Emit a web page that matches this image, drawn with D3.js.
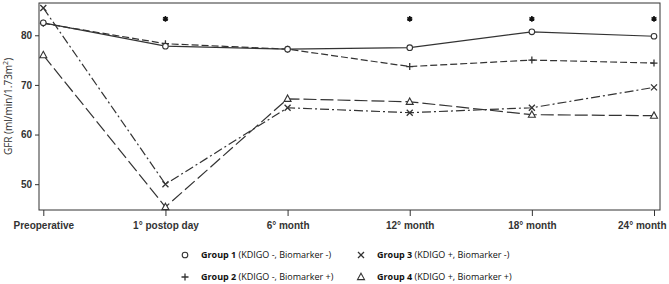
<!DOCTYPE html>
<html>
<head>
<meta charset="utf-8">
<script src="https://cdn.jsdelivr.net/npm/d3@7"></script>
<style>
  body { margin: 0; background: #fff; }
  svg { display: block; font-family: "Open Sans", "Liberation Sans", sans-serif; }
</style>
</head>
<body>
<div id="chart"></div>
<script>
// time points on the x axis
const timePoints = ["Preoperative", "1° postop day", "6° month", "12° month", "18° month", "24° month"];

// GFR values per group
const group1 = [82.5, 77.8, 77.2, 77.5, 80.7, 79.8];
const group2 = [82.4, 78.3, 77.2, 73.7, 75.0, 74.4];
const group3 = [85.5, 50.0, 65.4, 64.4, 65.4, 69.5];
const group4 = [76.0, 45.4, 67.2, 66.6, 64.0, 63.8];

// significance stars
const starPoints = ["1° postop day", "12° month", "18° month", "24° month"];
const starValue = 83.3;

const yTicks = [50, 60, 70, 80];

const groupNames = ["Group 1", "Group 2", "Group 3", "Group 4"];
const groupDetail = ["(KDIGO -, Biomarker -)", "(KDIGO -, Biomarker +)", "(KDIGO +, Biomarker -)", "(KDIGO +, Biomarker +)"];

const W = 669, H = 284;
const frame = {left: 39, right: 660, top: 3, bottom: 210};
const ink = "#333";

const svg = d3.select("#chart").append("svg")
    .attr("width", W).attr("height", H);

const x = d3.scalePoint()
    .domain(timePoints)
    .range([43.3, 654]);

const y = d3.scaleLinear()
    .domain([44.8, 86.5])
    .range([frame.bottom, frame.top]);

// frame
svg.append("rect")
    .attr("x", frame.left).attr("y", frame.top)
    .attr("width", frame.right - frame.left)
    .attr("height", frame.bottom - frame.top)
    .attr("fill", "none").attr("stroke", ink).attr("stroke-width", 1);

// y axis
const yAxis = svg.append("g")
    .attr("transform", `translate(${frame.left},0)`)
    .call(d3.axisLeft(y).tickValues(yTicks).tickSize(4).tickPadding(3));
yAxis.select(".domain").remove();
yAxis.selectAll("line").attr("stroke", ink);
yAxis.selectAll("text")
    .attr("fill", ink)
    .style("font-size", "10px")
    .style("font-weight", "bold");

// x axis
const xAxis = svg.append("g")
    .attr("transform", `translate(0,${frame.bottom})`)
    .call(d3.axisBottom(x).tickSize(6).tickPadding(6));
xAxis.select(".domain").remove();
xAxis.selectAll("line").attr("stroke", ink);
xAxis.selectAll("text")
    .attr("fill", ink)
    .style("font-size", "10px")
    .style("font-weight", "bold");
// last label pushed inside the window
xAxis.selectAll(".tick text")
    .filter(d => d === timePoints[timePoints.length - 1])
    .attr("text-anchor", "end")
    .attr("x", 666 - x(timePoints[timePoints.length - 1]));

// y axis title
svg.append("text")
    .attr("transform", `translate(12,${(frame.top + frame.bottom) / 2}) rotate(-90)`)
    .attr("text-anchor", "middle")
    .attr("fill", ink)
    .style("font-size", "10px")
    .html('GFR (ml/min/1.73m<tspan dy="-4" font-size="7px">2</tspan><tspan dy="4">)</tspan>');

// series
const series = [
  {name: groupNames[0], values: group1, dash: null, symbol: "circle"},
  {name: groupNames[1], values: group2, dash: "7,3", symbol: "plus"},
  {name: groupNames[2], values: group3, dash: "9,3,2,3", symbol: "cross"},
  {name: groupNames[3], values: group4, dash: "13,4", symbol: "triangle"}
];

const line = d3.line()
    .x((d, i) => x(timePoints[i]))
    .y(d => y(d));

function drawMarker(g, type, cx, cy) {
  if (type === "circle") {
    g.append("circle").attr("cx", cx).attr("cy", cy).attr("r", 2.8)
      .attr("fill", "#fff").attr("stroke", ink).attr("stroke-width", 1.1);
  } else if (type === "plus") {
    g.append("path").attr("d", `M${cx - 3.5},${cy}H${cx + 3.5}M${cx},${cy - 3.5}V${cy + 3.5}`)
      .attr("stroke", ink).attr("stroke-width", 1.3);
  } else if (type === "cross") {
    g.append("path").attr("d", `M${cx - 3},${cy - 3}L${cx + 3},${cy + 3}M${cx - 3},${cy + 3}L${cx + 3},${cy - 3}`)
      .attr("stroke", ink).attr("stroke-width", 1.3);
  } else {
    g.append("path").attr("d", `M${cx},${cy - 3.8}L${cx + 3.5},${cy + 2.6}L${cx - 3.5},${cy + 2.6}Z`)
      .attr("fill", "#fff").attr("stroke", ink).attr("stroke-width", 1.1);
  }
}

// draw group 4 first so group 1 sits on top
series.slice().reverse().forEach(s => {
  const g = svg.append("g");
  g.append("path")
    .datum(s.values)
    .attr("d", line)
    .attr("fill", "none")
    .attr("stroke", ink)
    .attr("stroke-width", 1.2)
    .attr("stroke-dasharray", s.dash);
  s.values.forEach((v, i) => drawMarker(g, s.symbol, x(timePoints[i]), y(v)));
});

// asterisks
svg.selectAll(".star")
  .data(starPoints)
  .join("path")
    .attr("class", "star")
    .attr("transform", d => `translate(${x(d)},${y(starValue)})`)
    .attr("d", d3.symbol(d3.symbolAsterisk, 22))
    .attr("stroke", "#111")
    .attr("stroke-width", 1.6);

// legend
const legendCols = [185, 361];
const legendRows = [255, 277];
const legendOrder = [0, 1, 2, 3];
legendOrder.forEach(i => {
  const col = Math.floor(i / 2), row = i % 2;
  const lg = svg.append("g");
  drawMarker(lg, series[i].symbol, legendCols[col], legendRows[row]);
  const t = lg.append("text")
    .attr("x", legendCols[col] + 16)
    .attr("y", legendRows[row])
    .attr("dy", "0.35em")
    .attr("fill", "#111")
    .style("font-size", "9px");
  t.append("tspan").style("font-weight", "bold").text(groupNames[i]);
  t.append("tspan").text(" " + groupDetail[i]);
});
</script>
</body>
</html>
